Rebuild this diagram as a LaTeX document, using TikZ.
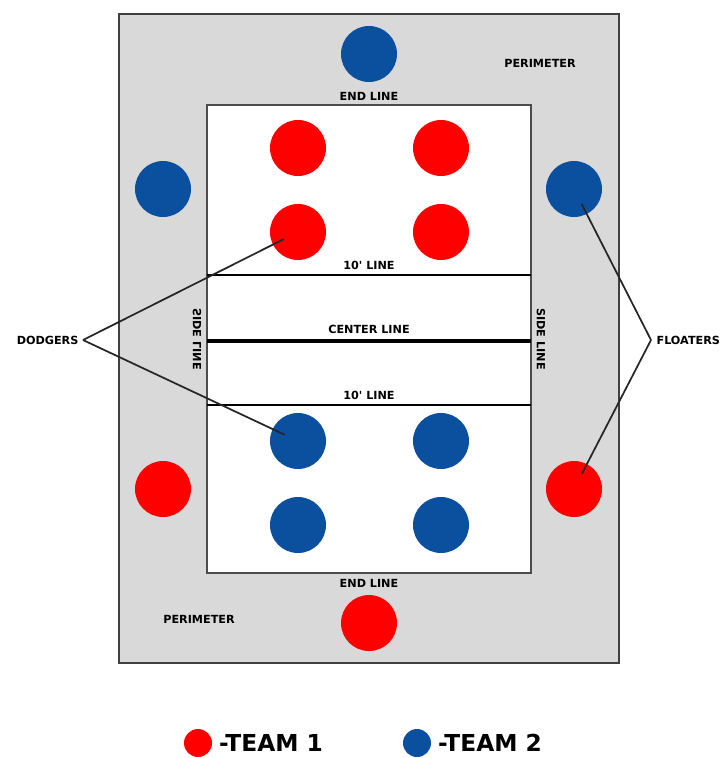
\documentclass[tikz,border=0pt]{standalone}
\usepackage{fontspec}
\setmainfont{DejaVu Sans}
\usepackage{xcolor}
\usetikzlibrary{positioning}
\definecolor{teamred}{RGB}{255,0,0}
\definecolor{teamblue}{RGB}{11,79,159}
\definecolor{perimgray}{RGB}{217,217,217}
\tikzset{
  player/.style={circle,inner sep=0pt,minimum size=42pt},
  redplayer/.style={player,fill=teamred},
  blueplayer/.style={player,fill=teamblue},
  lbl/.style={font=\bfseries\fontsize{8.4}{9}\selectfont,inner sep=1pt},
  legendtext/.style={font=\bfseries\fontsize{17.5}{18}\selectfont,inner sep=0pt},
  pointer/.style={line width=1.3pt,black!85}
}

\begin{document}
\begin{tikzpicture}[x=0.75pt,y=-0.75pt]
    \useasboundingbox (0,0) rectangle (723,758);
    % perimeter and court
    \draw[line width=1.5pt,draw=black!75,fill=perimgray] (119,14) rectangle (619,663);
    \draw[line width=1.3pt,draw=black!70,fill=white] (207,105) rectangle (531,573);
    \draw[line width=1.2pt] (207,275) -- (531,275);
    \draw[line width=1.2pt] (207,405) -- (531,405);
    \draw[line width=3pt] (207,341) -- (531,341);

    % line labels
    \node[lbl] at (540,63) {PERIMETER};
    \node[lbl] at (199,619) {PERIMETER};
    \node[lbl] at (369,96) {END LINE};
    \node[lbl] at (369,583) {END LINE};
    \node[lbl] at (369,265) {10\textquotesingle{} LINE};
    \node[lbl] at (369,395) {10\textquotesingle{} LINE};
    \node[lbl] at (369,329) {CENTER LINE};
    \node[lbl,rotate=-90,yscale=-1] at (197,339) {SIDE LINE};
    \node[lbl,rotate=-90] at (541,339) {SIDE LINE};

    % team 1 in court
    \node[redplayer] (r1) at (298,148) {};
    \node[redplayer] (r2) at (441,148) {};
    \node[redplayer] (r3) at (298,232) {};
    \node[redplayer] (r4) at (441,232) {};
    % team 2 in court
    \node[blueplayer] (b1) at (298,441) {};
    \node[blueplayer] (b2) at (441,441) {};
    \node[blueplayer] (b3) at (298,525) {};
    \node[blueplayer] (b4) at (441,525) {};
    % players on the perimeter
    \node[blueplayer] (btop) at (369,54) {};
    \node[blueplayer] (bleft) at (163,189) {};
    \node[blueplayer] (bright) at (574,189) {};
    \node[redplayer] (rleft) at (163,489) {};
    \node[redplayer] (rright) at (574,489) {};
    \node[redplayer] (rbottom) at (369,623) {};

    % dodgers and floaters
    \node[lbl,anchor=east] (dodgers) at (80,340) {DODGERS};
    \node[lbl,anchor=west] (floaters) at (655,340) {FLOATERS};
    \coordinate (dodgetip) at (83,340);
    \coordinate (floattip) at (651,340);
    \draw[pointer,shorten >=12pt] (dodgetip) -- (r3.center);
    \draw[pointer,shorten >=11pt] (dodgetip) -- (b1.center);
    \draw[pointer,shorten >=12.5pt] (floattip) -- (bright.center);
    \draw[pointer,shorten >=13pt] (floattip) -- (rright.center);

    % legend
    \node[redplayer,minimum size=21pt] (key1) at (198,743) {};
    \node[legendtext,right=5pt of key1] (team1) {-TEAM 1};
    \node[blueplayer,minimum size=21pt] (key2) at (417,743) {};
    \node[legendtext,right=5pt of key2] (team2) {-TEAM 2};
\end{tikzpicture}
\end{document}
